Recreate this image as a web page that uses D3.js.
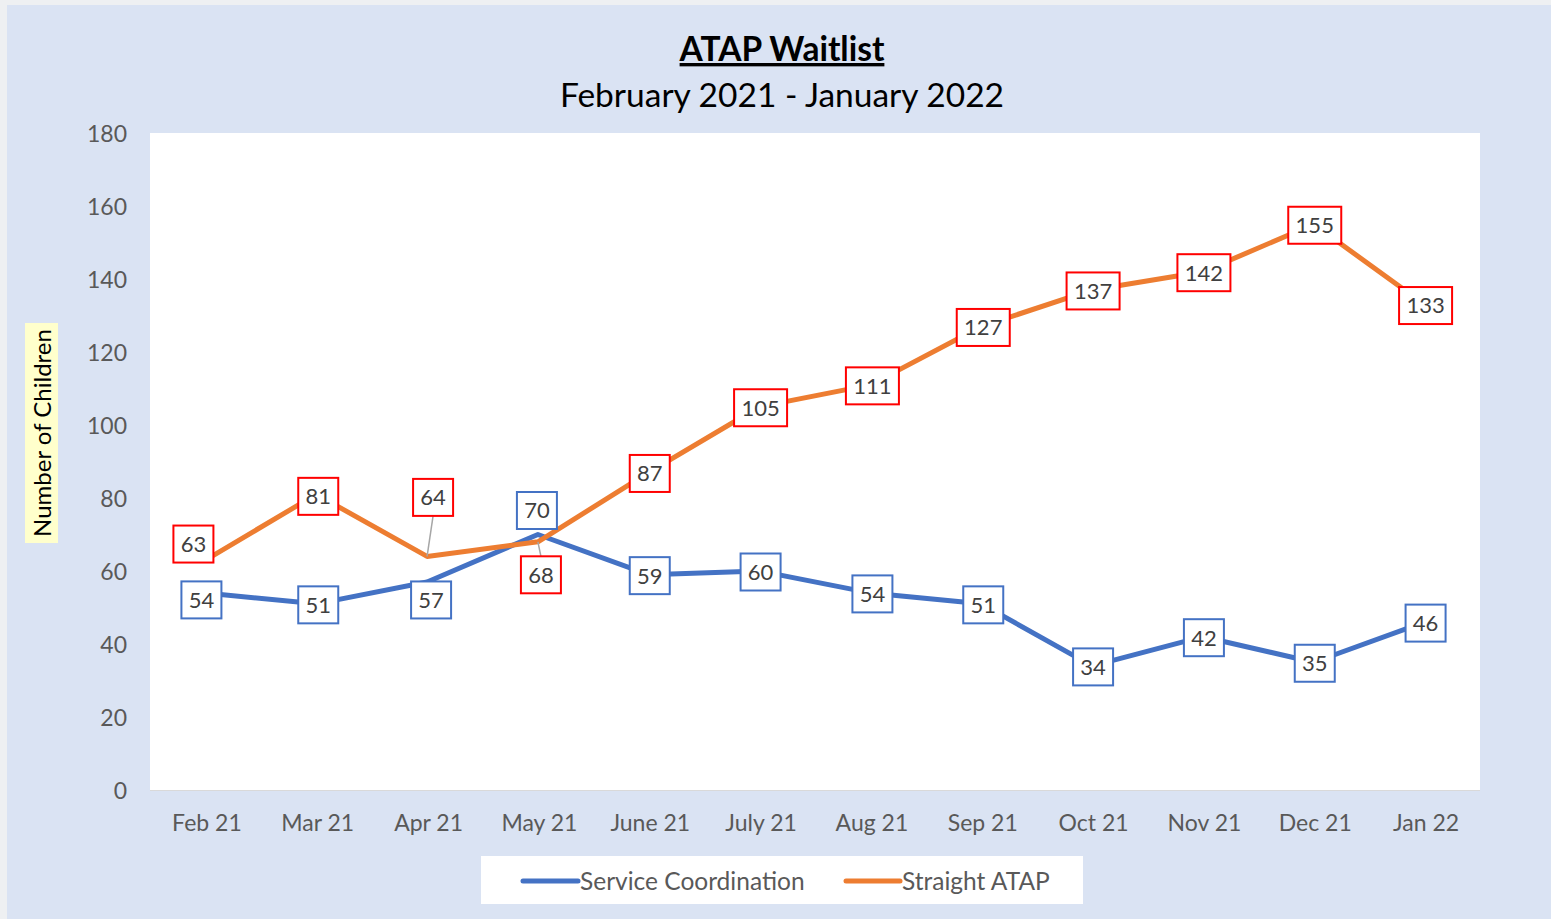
<!DOCTYPE html>
<html><head><meta charset="utf-8">
<script src="https://cdn.jsdelivr.net/npm/d3@7"></script>
<style>
html,body{margin:0;padding:0;background:#eef0f2;}
svg{display:block;}
</style></head>
<body>
<script>
const categories = ["Feb 21","Mar 21","Apr 21","May 21","June 21","July 21","Aug 21","Sep 21","Oct 21","Nov 21","Dec 21","Jan 22"];
const serviceCoordination = [54,51,57,70,59,60,54,51,34,42,35,46];
const straightATAP = [63,81,64,68,87,105,111,127,137,142,155,133];
const yTicks = [0,20,40,60,80,100,120,140,160,180];
const seriesNames = ["Service Coordination","Straight ATAP"];
// label offsets (layout only, in px) relative to the data point
const scOffsets = [[-4,7],[2,1],[4,18],[-1,-24],[1,1],[1,1],[2,1],[2,1],[1,1],[1,1],[1,1],[1,1]];
const saOffsets = [[-12,-16],[2,2],[6,-59],[3,33],[1,1],[1,1],[2,1],[2,1],[1,1],[1,1],[1,1],[1,1]];

const W = 1551, H = 919;
const svg = d3.select("body").append("svg").attr("width", W).attr("height", H);
const FONT = "Lato, 'Open Sans', sans-serif";

// panel
svg.append("rect").attr("x",7).attr("y",5).attr("width",W-7).attr("height",H-5).attr("fill","#dae3f3");

const plot = {x0:150, x1:1480, y0:133, y1:790};
svg.append("rect").attr("x",plot.x0).attr("y",plot.y0).attr("width",plot.x1-plot.x0).attr("height",plot.y1-plot.y0).attr("fill","#ffffff");

const x = d3.scalePoint().domain(categories).range([plot.x0, plot.x1]).padding(0.5);
const y = d3.scaleLinear().domain([0,180]).range([plot.y1, plot.y0]);

// bottom axis line
svg.append("line").attr("x1",plot.x0).attr("x2",plot.x1).attr("y1",plot.y1+0.5).attr("y2",plot.y1+0.5).attr("stroke","#d9d9d9").attr("stroke-width",1);

// y axis
const yAxis = svg.append("g").attr("transform",`translate(${plot.x0-23},1)`)
  .call(d3.axisLeft(y).tickValues(yTicks).tickSize(0).tickPadding(0));
yAxis.select(".domain").remove();
yAxis.selectAll("text").attr("font-family",FONT).attr("font-size",23).attr("fill","#595959");

// x axis
const xAxis = svg.append("g").attr("transform",`translate(1,${plot.y1+25})`)
  .call(d3.axisBottom(x).tickSize(0).tickPadding(0));
xAxis.select(".domain").remove();
xAxis.selectAll("text").attr("font-family",FONT).attr("font-size",23).attr("fill","#595959").attr("dy","0.71em");

// titles
svg.append("text").attr("x",782).attr("y",61).attr("text-anchor","middle")
  .attr("font-family",FONT).attr("font-weight","bold").attr("font-size",33.5).attr("fill","#000")
  .attr("text-decoration","underline").text("ATAP Waitlist");
svg.append("text").attr("x",782).attr("y",107).attr("text-anchor","middle")
  .attr("font-family",FONT).attr("font-size",33.5).attr("fill","#000").text("February 2021 - January 2022");

// y axis title
const yt = svg.append("g").attr("transform","translate(50,433) rotate(-90)");
yt.append("rect").attr("x",-110).attr("y",-25).attr("width",220).attr("height",33).attr("fill","#ffffcc");
yt.append("text").attr("x",0).attr("y",1).attr("text-anchor","middle")
  .attr("font-family",FONT).attr("font-size",24).attr("fill","#000").text("Number of  Children");

// lines
const colors = ["#4472c4","#ed7d31"];
const border = ["#4472c4","#ff0000"];
const allSeries = [serviceCoordination, straightATAP];
const allOffsets = [scOffsets, saOffsets];
const line = d3.line().x((d,i)=>x(categories[i])).y(d=>y(d));
allSeries.forEach((s,k)=>{
  svg.append("path").datum(s).attr("d",line).attr("fill","none").attr("stroke",colors[k])
    .attr("stroke-width",5).attr("stroke-linejoin","round").attr("stroke-linecap","round");
});

// labels
allSeries.forEach((s,k)=>{
  const g = svg.append("g");
  s.forEach((v,i)=>{
    const px = x(categories[i]), py = y(v);
    const [dx,dy] = allOffsets[k][i];
    const cx = px+dx, cy = py+dy;
    const w = String(v).length>2 ? 53 : 40, h = 37;
    if (Math.abs(dy) > 25) {
      const ey = dy<0 ? cy+h/2 : cy-h/2;
      g.append("line").attr("x1",cx).attr("y1",ey).attr("x2",px).attr("y2",py)
        .attr("stroke","#a6a6a6").attr("stroke-width",1.5);
    }
    g.append("rect").attr("x",cx-w/2).attr("y",cy-h/2).attr("width",w).attr("height",h)
      .attr("fill","#fff").attr("stroke",border[k]).attr("stroke-width",2);
    g.append("text").attr("x",cx).attr("y",cy).attr("dy","0.36em").attr("text-anchor","middle")
      .attr("font-family",FONT).attr("font-size",22).attr("fill","#404040").text(v);
  });
});

// legend
svg.append("rect").attr("x",481).attr("y",856).attr("width",602).attr("height",48).attr("fill","#fff");
const legX = [[523,580],[846,902]];
seriesNames.forEach((n,k)=>{
  svg.append("line").attr("x1",legX[k][0]).attr("x2",legX[k][1]-2).attr("y1",881).attr("y2",881)
    .attr("stroke",colors[k]).attr("stroke-width",5).attr("stroke-linecap","round");
  svg.append("text").attr("x",legX[k][1]).attr("y",881).attr("dy","0.35em")
    .attr("font-family",FONT).attr("font-size",24.5).attr("fill","#595959").text(n);
});
</script>
</body></html>
